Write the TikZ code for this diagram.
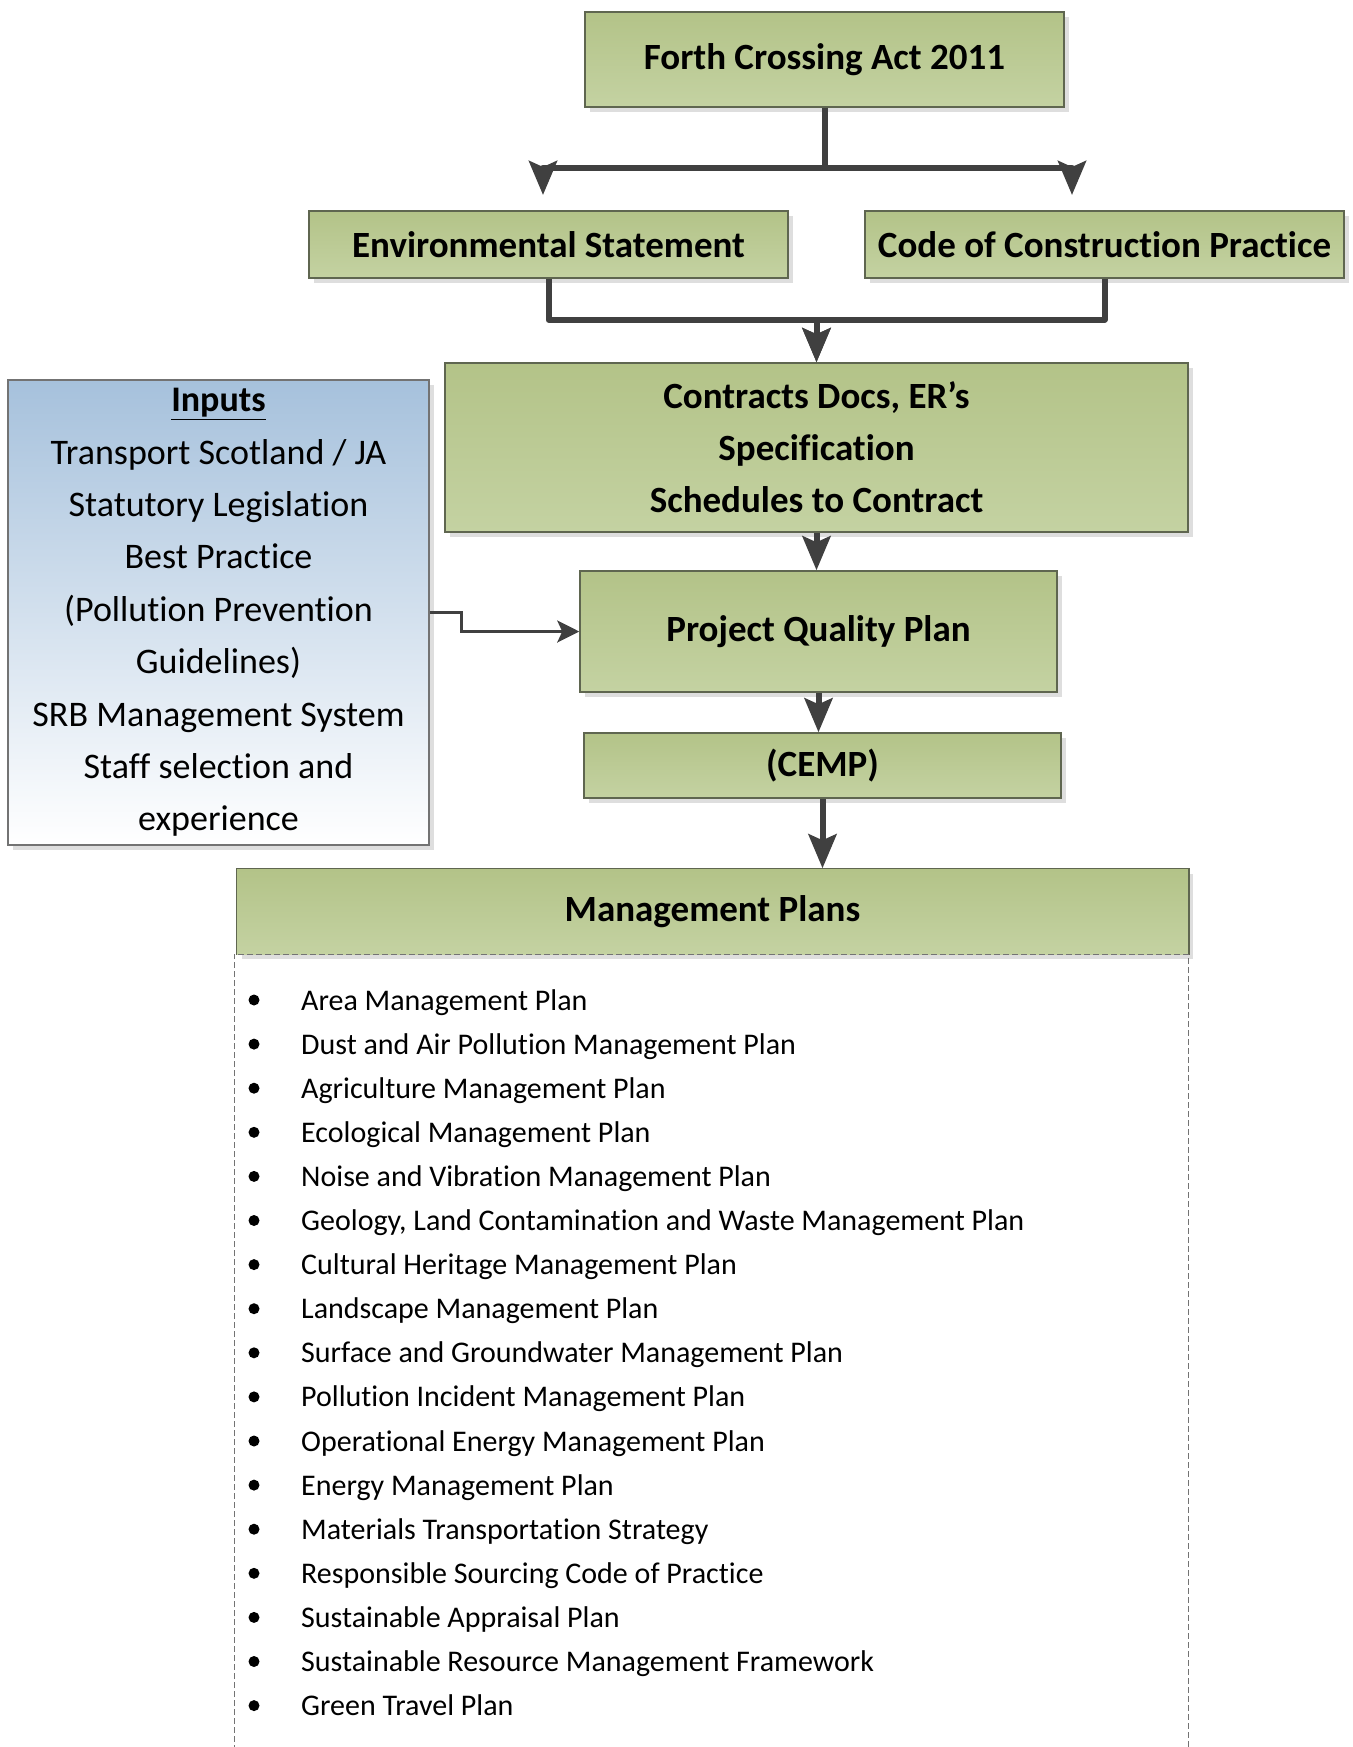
\documentclass[tikz,border=0pt]{standalone}
\usepackage{fontspec}
\setmainfont{Carlito}[Ligatures={NoCommon}]
\usetikzlibrary{arrows.meta,shadows}

\definecolor{planTop}{HTML}{B3C388}
\definecolor{planBot}{HTML}{C4D2A2}
\definecolor{planEdge}{HTML}{5F6650}
\definecolor{inputTop}{HTML}{A6C1DC}
\definecolor{flowGrey}{HTML}{404040}

\tikzset{
  planbox/.style={draw=planEdge, line width=1.5pt, top color=planTop, bottom color=planBot,
    drop shadow={shadow xshift=5pt, shadow yshift=-5pt, fill=black!13, opacity=1},
    font=\fontsize{37}{52}\selectfont\bfseries, align=center, inner sep=0pt},
  flow/.style={draw=flowGrey, line width=6pt, line join=round, -{Stealth[length=34pt,width=28pt,inset=6pt]}},
  thinflow/.style={draw=flowGrey, line width=3pt, -{Stealth[length=22pt,width=22pt,inset=5pt]}},
}

\begin{document}
\begin{tikzpicture}[x=1pt,y=-1pt]
  \useasboundingbox (0,0) rectangle (1352,1747);

  % boxes
  \node[planbox, minimum width=479pt, minimum height=95pt] (forth) at (824.5,59.5) {Forth Crossing Act 2011};
  \node[planbox, minimum width=479pt, minimum height=67pt] (envst) at (548.5,244.5) {Environmental Statement};
  \node[planbox, minimum width=479pt, minimum height=67pt] (cocp) at (1104.5,244.5) {Code of Construction Practice};
  \node[planbox, minimum width=743pt, minimum height=169pt] (contract) at (816.5,447.5)
    {Contracts Docs, ER’s\\Specification\\Schedules to Contract};
  \node[planbox, minimum width=477pt, minimum height=121pt] (pqp) at (818.5,631.5) {Project Quality Plan};
  \node[planbox, minimum width=477pt, minimum height=65pt] (cemp) at (822.5,765.5) {(CEMP)};
  \node[planbox, draw=none, minimum width=951pt, minimum height=85pt] (mgmt) at (712.5,911.5) {Management Plans};
  \draw[planEdge, line width=1.5pt] (mgmt.south west) |- (mgmt.north east) -- (mgmt.south east);

  \node[draw=black!55, line width=1.5pt, top color=inputTop, bottom color=white,
    drop shadow={shadow xshift=5pt, shadow yshift=-5pt, fill=black!13, opacity=1},
    minimum width=421pt, minimum height=465pt, inner sep=0pt, align=center,
    font=\fontsize{36}{52.4}\selectfont] (inputs) at (218.5,612.5)
    {\textbf{\underline{Inputs}}\\Transport Scotland / JA\\Statutory Legislation\\Best Practice\\
     (Pollution Prevention\\Guidelines)\\SRB Management System\\Staff selection and\\experience};

  % list of plans
  \draw[black!55, line width=1pt, dash pattern=on 6pt off 3pt]
    (234,1760) -- (234,954) -- (1188,954) -- (1188,1760);
  \foreach \plan [count=\i] in {Area Management Plan, Dust and Air Pollution Management Plan,
      Agriculture Management Plan, Ecological Management Plan, Noise and Vibration Management Plan,
      {Geology, Land Contamination and Waste Management Plan}, Cultural Heritage Management Plan,
      Landscape Management Plan, Surface and Groundwater Management Plan,
      Pollution Incident Management Plan, Operational Energy Management Plan, Energy Management Plan,
      Materials Transportation Strategy, Responsible Sourcing Code of Practice,
      Sustainable Appraisal Plan, Sustainable Resource Management Framework, Green Travel Plan}{
    \node[circle, fill=black, inner sep=0pt, minimum size=11pt] (dot\i) at (254,{1000+44.1*(\i-1)}) {};
    \node[anchor=base west, inner sep=0pt, font=\fontsize{30}{36}\selectfont] (item\i)
      at (301,{1010+44.1*(\i-1)}) {\plan};
  }

  % connectors
  \coordinate (envIn) at (543,195);
  \coordinate (cocpIn) at (1072,195);
  \draw[flow] (forth.south) -- ++(0,60) -| (envIn);
  \draw[flow] (forth.south) -- ++(0,60) -| (cocpIn);
  \draw[flow] (envst.south) -- ++(0,41) -| (contract.north);
  \draw[flow] (cocp.south) -- ++(0,41) -| (contract.north);
  \draw[flow] (contract.south) -- (contract.south |- pqp.north);
  \draw[flow] (pqp.south) -- (pqp.south |- cemp.north);
  \draw[flow] (cemp.south) -- (cemp.south |- mgmt.north);
  \draw[thinflow] (inputs.east) -- ++(32,0) |- (pqp.west);
\end{tikzpicture}
\end{document}
